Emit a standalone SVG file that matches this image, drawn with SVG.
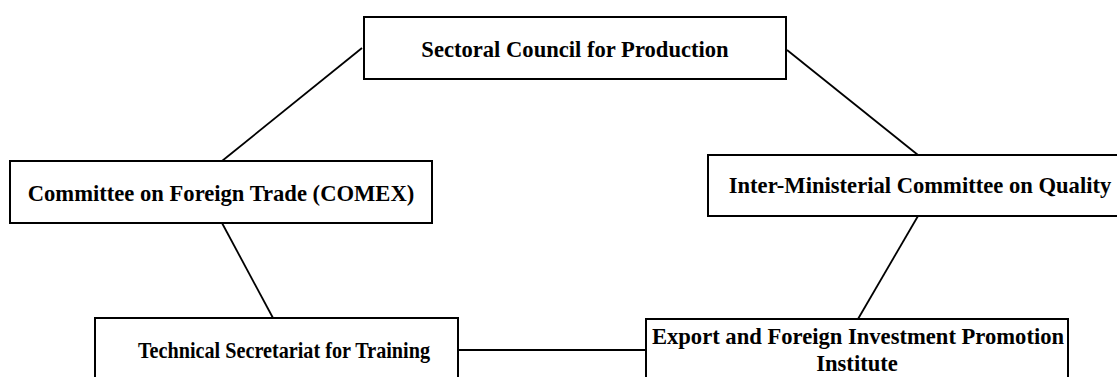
<svg xmlns="http://www.w3.org/2000/svg" width="1117" height="377" viewBox="0 0 1117 377">
<style>
.box{fill:#fff;stroke:#000;stroke-width:2}
.t{font-family:"Liberation Serif","Times New Roman",serif;font-weight:bold;font-size:22.6px;fill:#000;text-anchor:middle}
.c{stroke:#000;stroke-width:1.8;fill:none}
</style>
<rect width="1117" height="377" fill="#fff"/>
<g id="connectors">
<line class="c" x1="362" y1="48" x2="222" y2="161"/>
<line class="c" x1="787" y1="50" x2="918" y2="155"/>
<line class="c" x1="222" y1="223" x2="273" y2="318"/>
<line class="c" x1="918" y1="216" x2="858" y2="319"/>
<line class="c" x1="458" y1="350" x2="646" y2="350"/>
</g>
<g id="sectoral">
<rect class="box" x="364" y="17" width="422" height="62"/>
<text class="t" x="575" y="57">Sectoral Council for Production</text>
</g>
<g id="comex">
<rect class="box" x="10" y="161" width="422" height="62"/>
<text class="t" x="221" y="201">Committee on Foreign Trade (COMEX)</text>
</g>
<g id="quality">
<rect class="box" x="708" y="155" width="424" height="61"/>
<text class="t" x="920" y="193">Inter-Ministerial Committee on Quality</text>
</g>
<g id="training">
<rect class="box" x="95" y="318" width="363" height="70"/>
<text class="t" x="284" y="358" style="font-size:23.5px" textLength="292" lengthAdjust="spacingAndGlyphs">Technical Secretariat for Training</text>
</g>
<g id="export">
<rect class="box" x="646" y="319" width="422" height="70"/>
<text class="t" x="858" y="344">Export and Foreign Investment Promotion</text>
<text class="t" x="857" y="371">Institute</text>
</g>
</svg>
